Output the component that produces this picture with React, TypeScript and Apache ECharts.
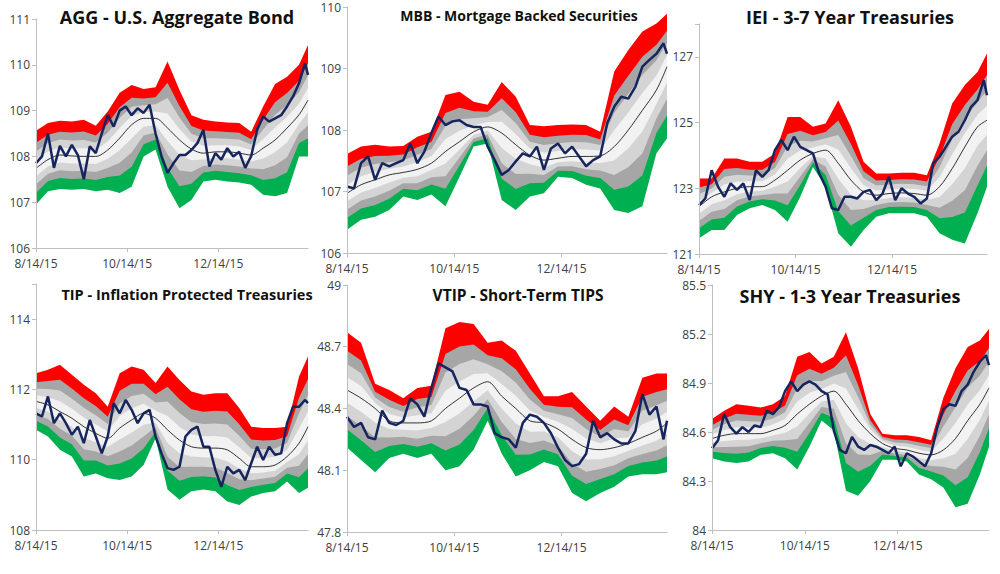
import React, { useEffect, useRef } from "react";
import * as echarts from "echarts";

const BAND_DAYS = [0, 8, 16, 24, 32, 40, 48, 56, 64, 72, 80, 88, 96, 104, 112, 120, 128, 136, 144, 152, 160, 168, 176, 182];
const PRICE_DAYS = [0, 4, 8, 12, 16, 20, 24, 28, 32, 36, 40, 44, 48, 52, 56, 60, 64, 68, 72, 76, 80, 84, 88, 92, 96, 100, 104, 108, 112, 116, 120, 124, 128, 132, 136, 140, 144, 148, 152, 156, 160, 164, 168, 172, 176, 180, 182];
const X_LABELS: Record<number, string> = { 0: "8/14/15", 61: "10/14/15", 122: "12/14/15" };

const AGG_TOP = [108.56, 108.73, 108.78, 108.76, 108.8, 108.67, 108.98, 109.39, 109.56, 109.47, 109.51, 110.07, 109.45, 108.9, 108.8, 108.76, 108.74, 108.73, 108.54, 109.09, 109.58, 109.74, 110.0, 110.43];
const AGG_BOT = [106.95, 107.24, 107.29, 107.27, 107.29, 107.24, 107.27, 107.2, 107.34, 108.0, 108.15, 107.34, 106.87, 107.05, 107.45, 107.49, 107.45, 107.43, 107.38, 107.16, 107.13, 107.2, 108.0, 108.0];
const AGG_MID = [107.74, 107.93, 108.03, 108.01, 108.0, 108.0, 108.14, 108.4, 108.69, 108.83, 108.83, 108.62, 108.36, 108.16, 108.07, 108.1, 108.1, 108.07, 108.03, 108.18, 108.36, 108.62, 108.91, 109.23];
const AGG_PRICE = [107.85, 108.0, 108.5, 107.75, 108.23, 108.0, 108.25, 108.03, 107.5, 108.22, 108.07, 108.5, 108.9, 108.65, 109.0, 109.09, 108.9, 109.05, 108.95, 109.13, 108.5, 108.0, 107.64, 107.85, 108.03, 108.03, 108.14, 108.29, 108.58, 107.78, 108.07, 107.93, 108.18, 108.0, 108.1, 107.75, 108.01, 108.58, 108.87, 108.76, 108.83, 108.9, 109.09, 109.31, 109.6, 110.03, 109.78];

const MBB_TOP = [107.61, 107.73, 107.76, 107.73, 107.74, 107.89, 107.97, 108.57, 108.62, 108.46, 108.41, 108.78, 108.54, 108.08, 108.06, 108.08, 108.09, 108.08, 107.97, 108.95, 109.3, 109.6, 109.73, 109.89];
const MBB_BOT = [106.38, 106.54, 106.59, 106.7, 106.92, 106.86, 106.95, 106.76, 107.24, 107.73, 107.78, 106.86, 106.7, 106.92, 106.97, 107.24, 107.22, 107.11, 107.05, 106.7, 106.65, 106.76, 107.62, 107.86];
const MBB_MID = [106.97, 107.11, 107.19, 107.27, 107.31, 107.36, 107.46, 107.65, 107.81, 107.97, 108.05, 107.95, 107.76, 107.59, 107.51, 107.54, 107.57, 107.57, 107.58, 107.73, 108.0, 108.32, 108.65, 109.03];
const MBB_PRICE = [107.08, 107.05, 107.46, 107.57, 107.19, 107.46, 107.41, 107.46, 107.51, 107.78, 107.46, 107.65, 107.95, 108.22, 108.08, 108.14, 108.16, 108.08, 108.05, 108.05, 107.73, 107.51, 107.27, 107.35, 107.49, 107.62, 107.57, 107.73, 107.35, 107.7, 107.78, 107.62, 107.73, 107.57, 107.41, 107.51, 107.57, 108.11, 108.38, 108.54, 108.51, 108.7, 109.03, 109.14, 109.24, 109.41, 109.24];

const IEI_TOP = [123.3, 123.3, 123.91, 123.91, 123.81, 123.81, 124.06, 125.17, 125.17, 124.87, 124.97, 125.68, 124.87, 123.81, 123.45, 123.45, 123.47, 123.47, 123.4, 124.36, 125.58, 126.14, 126.54, 127.1];
const IEI_BOT = [121.48, 121.73, 121.73, 122.19, 122.39, 122.49, 122.34, 121.98, 122.74, 123.65, 123.05, 121.63, 121.22, 121.73, 122.13, 122.24, 122.24, 122.24, 122.13, 121.63, 121.43, 121.32, 122.24, 123.05];
const IEI_MID = [122.44, 122.74, 122.89, 123.0, 123.05, 123.05, 123.25, 123.55, 123.86, 124.06, 124.16, 123.76, 123.25, 122.89, 122.79, 122.84, 122.86, 122.84, 122.79, 123.05, 123.6, 124.26, 124.87, 125.07];
const IEI_PRICE = [122.49, 122.69, 123.55, 123.05, 122.74, 123.15, 122.95, 123.15, 122.64, 123.55, 123.35, 123.55, 124.16, 124.47, 124.16, 124.57, 124.26, 124.16, 124.06, 123.45, 123.05, 122.39, 122.34, 122.74, 122.74, 122.69, 122.89, 122.95, 122.64, 122.84, 123.35, 122.64, 123.0, 122.84, 122.74, 122.54, 122.69, 123.76, 123.96, 124.26, 124.57, 124.72, 125.07, 125.48, 125.68, 126.29, 125.83];

const TIP_TOP = [112.46, 112.56, 112.7, 112.42, 112.13, 111.89, 111.51, 112.46, 112.65, 112.56, 112.18, 112.65, 112.27, 111.94, 111.85, 111.89, 111.89, 111.47, 110.94, 110.9, 110.9, 110.94, 112.37, 112.94];
const TIP_BOT = [110.85, 110.66, 110.28, 110.09, 109.52, 109.61, 109.47, 109.42, 109.52, 109.85, 110.61, 109.15, 108.86, 109.1, 109.15, 109.1, 108.81, 108.71, 108.95, 109.05, 109.1, 109.38, 109.05, 109.2];
const TIP_MID = [111.66, 111.56, 111.37, 111.18, 110.94, 110.75, 110.61, 110.9, 111.13, 111.32, 111.18, 110.85, 110.56, 110.37, 110.33, 110.33, 110.28, 110.04, 109.8, 109.8, 109.85, 110.09, 110.47, 110.94];
const TIP_PRICE = [111.32, 111.23, 111.8, 111.04, 111.32, 111.04, 110.71, 110.94, 110.47, 111.13, 110.66, 110.18, 110.66, 111.61, 111.32, 111.7, 111.42, 111.04, 111.32, 111.42, 110.66, 110.18, 109.76, 109.71, 109.8, 110.66, 110.85, 110.94, 110.37, 110.37, 109.71, 109.23, 109.8, 109.61, 109.71, 109.42, 109.9, 110.37, 109.99, 110.37, 110.14, 110.18, 111.04, 111.51, 111.51, 111.7, 111.61];

const VTIP_TOP = [48.77, 48.72, 48.52, 48.49, 48.45, 48.5, 48.51, 48.79, 48.82, 48.81, 48.72, 48.73, 48.68, 48.57, 48.46, 48.46, 48.48, 48.41, 48.34, 48.41, 48.36, 48.55, 48.57, 48.57];
const VTIP_BOT = [48.21, 48.15, 48.09, 48.16, 48.18, 48.16, 48.18, 48.1, 48.12, 48.2, 48.34, 48.18, 48.07, 48.1, 48.14, 48.12, 47.99, 47.95, 47.99, 48.02, 48.07, 48.08, 48.08, 48.09];
const VTIP_MID = [48.49, 48.45, 48.4, 48.34, 48.33, 48.33, 48.34, 48.4, 48.45, 48.5, 48.53, 48.46, 48.4, 48.34, 48.33, 48.3, 48.25, 48.21, 48.2, 48.21, 48.23, 48.26, 48.29, 48.33];
const VTIP_PRICE = [48.36, 48.31, 48.33, 48.26, 48.25, 48.39, 48.33, 48.32, 48.34, 48.45, 48.42, 48.36, 48.5, 48.62, 48.6, 48.58, 48.5, 48.49, 48.42, 48.42, 48.41, 48.28, 48.26, 48.25, 48.21, 48.33, 48.37, 48.36, 48.33, 48.28, 48.21, 48.15, 48.12, 48.13, 48.18, 48.34, 48.26, 48.28, 48.25, 48.23, 48.23, 48.29, 48.47, 48.37, 48.41, 48.25, 48.34];

const SHY_TOP = [84.68, 84.73, 84.77, 84.76, 84.75, 84.77, 84.82, 85.06, 85.09, 85.02, 85.06, 85.21, 84.99, 84.71, 84.59, 84.58, 84.58, 84.57, 84.55, 84.81, 84.99, 85.12, 85.16, 85.23];
const SHY_BOT = [84.44, 84.42, 84.41, 84.42, 84.46, 84.47, 84.44, 84.37, 84.51, 84.67, 84.61, 84.24, 84.21, 84.3, 84.43, 84.43, 84.42, 84.34, 84.31, 84.26, 84.14, 84.16, 84.34, 84.51];
const SHY_MID = [84.56, 84.58, 84.59, 84.59, 84.59, 84.61, 84.64, 84.71, 84.77, 84.82, 84.85, 84.77, 84.67, 84.59, 84.53, 84.5, 84.49, 84.47, 84.46, 84.49, 84.56, 84.67, 84.77, 84.87];
const SHY_PRICE = [84.5, 84.55, 84.71, 84.63, 84.59, 84.63, 84.6, 84.64, 84.63, 84.73, 84.71, 84.75, 84.85, 84.91, 84.85, 84.89, 84.91, 84.89, 84.85, 84.83, 84.61, 84.49, 84.47, 84.57, 84.51, 84.49, 84.52, 84.51, 84.49, 84.47, 84.51, 84.39, 84.47, 84.45, 84.42, 84.39, 84.47, 84.63, 84.74, 84.77, 84.76, 84.85, 84.89, 84.97, 85.03, 85.07, 85.01];

type Panel = {
  title: string; titleSize: number; top: number[]; bot: number[]; mid: number[]; price: number[];
  min: number; max: number; interval: number;
  grid: { left: number; top: number; width: number; height: number }; titleX: number; titleY: number;
};

const PANELS: Panel[] = [
  { title: "AGG - U.S. Aggregate Bond", titleSize: 18, top: AGG_TOP, bot: AGG_BOT, mid: AGG_MID, price: AGG_PRICE, min: 106, max: 111, interval: 1, grid: { left: 36, top: 19, width: 272, height: 229 }, titleX: 172, titleY: 3 },
  { title: "MBB - Mortgage Backed Securities", titleSize: 14, top: MBB_TOP, bot: MBB_BOT, mid: MBB_MID, price: MBB_PRICE, min: 106, max: 110, interval: 1, grid: { left: 347, top: 7, width: 320, height: 246 }, titleX: 514, titleY: 3 },
  { title: "IEI - 3-7 Year Treasuries", titleSize: 18, top: IEI_TOP, bot: IEI_BOT, mid: IEI_MID, price: IEI_PRICE, min: 121, max: 128, interval: 2, grid: { left: 699, top: 24, width: 288, height: 230 }, titleX: 845, titleY: 3 },
  { title: "TIP - Inflation Protected Treasuries", titleSize: 14.5, top: TIP_TOP, bot: TIP_BOT, mid: TIP_MID, price: TIP_PRICE, min: 108, max: 115, interval: 2, grid: { left: 36, top: 284, width: 272, height: 246 }, titleX: 182, titleY: 282 },
  { title: "VTIP - Short-Term TIPS", titleSize: 15.5, top: VTIP_TOP, bot: VTIP_BOT, mid: VTIP_MID, price: VTIP_PRICE, min: 47.8, max: 49, interval: 0.3, grid: { left: 347, top: 285, width: 320, height: 247 }, titleX: 513, titleY: 282 },
  { title: "SHY - 1-3 Year Treasuries", titleSize: 18, top: SHY_TOP, bot: SHY_BOT, mid: SHY_MID, price: SHY_PRICE, min: 84, max: 85.5, interval: 0.3, grid: { left: 712, top: 285, width: 277, height: 245 }, titleX: 845, titleY: 282 },
];

const BAND_LEVELS: [number, string][] = [
  [1, "#ff0000"], [0.68, "#a6a6a6"], [0.45, "#d4d4d4"], [0.22, "#f2f2f2"],
  [-0.22, "#d4d4d4"], [-0.45, "#a6a6a6"], [-0.68, "#00b050"], [-1, "#ffffff"],
];

function buildOption() {
  const grids: any[] = [], xAxes: any[] = [], yAxes: any[] = [], series: any[] = [], titles: any[] = [];
  PANELS.forEach((p, i) => {
    grids.push({ ...p.grid });
    titles.push({ text: p.title, left: p.titleX, top: p.titleY, textAlign: "center",
      textStyle: { fontFamily: "Open Sans", fontWeight: "bold", fontSize: p.titleSize, color: "#111" } });
    xAxes.push({ type: "value", gridIndex: i, min: 0, max: 182, interval: 61, z: 10,
      axisLine: { show: true, lineStyle: { color: "#bfbfbf" } },
      axisTick: { show: true, length: 4, lineStyle: { color: "#bfbfbf" } },
      splitLine: { show: false },
      axisLabel: { formatter: (v: number) => X_LABELS[v] ?? "", color: "#404040", fontSize: 12, fontFamily: "Open Sans", margin: 9, showMaxLabel: false } });
    yAxes.push({ type: "value", gridIndex: i, min: p.min, max: p.max, interval: p.interval, z: 10,
      axisLine: { show: true, lineStyle: { color: "#bfbfbf" } },
      axisTick: { show: true, length: 4, lineStyle: { color: "#bfbfbf" } },
      splitLine: { show: false },
      axisLabel: { color: "#404040", fontSize: 12, fontFamily: "Open Sans", margin: 6,
        formatter: (v: number) => {
          const k = Math.round((v - p.min) / p.interval * 1000) / 1000;
          if (Math.abs(k - Math.round(k)) > 0.001) return "";
          return String(parseFloat(v.toFixed(2)));
        } } });
    BAND_LEVELS.forEach(([f, color]) => {
      const data = BAND_DAYS.map((d, j) => {
        const m = p.mid[j];
        const e = f >= 0 ? p.top[j] - m : m - p.bot[j];
        return [d, m + f * e];
      });
      series.push({ type: "line", xAxisIndex: i, yAxisIndex: i, data, symbol: "none", silent: true,
        lineStyle: { width: 0 }, areaStyle: { color, opacity: 1, origin: "start" } });
    });
    series.push({ type: "line", xAxisIndex: i, yAxisIndex: i, symbol: "none", smooth: 0.3,
      data: BAND_DAYS.map((d, j) => [d, p.mid[j]]), lineStyle: { color: "#000", width: 0.8 } });
    series.push({ type: "line", xAxisIndex: i, yAxisIndex: i, symbol: "none",
      data: PRICE_DAYS.map((d, j) => [d, p.price[j]]), lineStyle: { color: "#16255e", width: 2.5 } });
  });
  return { animation: false, backgroundColor: "#ffffff", title: titles, grid: grids, xAxis: xAxes, yAxis: yAxes, series };
}

export default function App() {
  const ref = useRef<HTMLDivElement>(null);
  useEffect(() => {
    if (!ref.current) return;
    const chart = echarts.init(ref.current, undefined, { renderer: "svg" });
    chart.setOption(buildOption() as any);
    return () => chart.dispose();
  }, []);
  return <div ref={ref} style={{ position: "fixed", left: 0, top: 0, width: 1000, height: 574 }} />;
}
